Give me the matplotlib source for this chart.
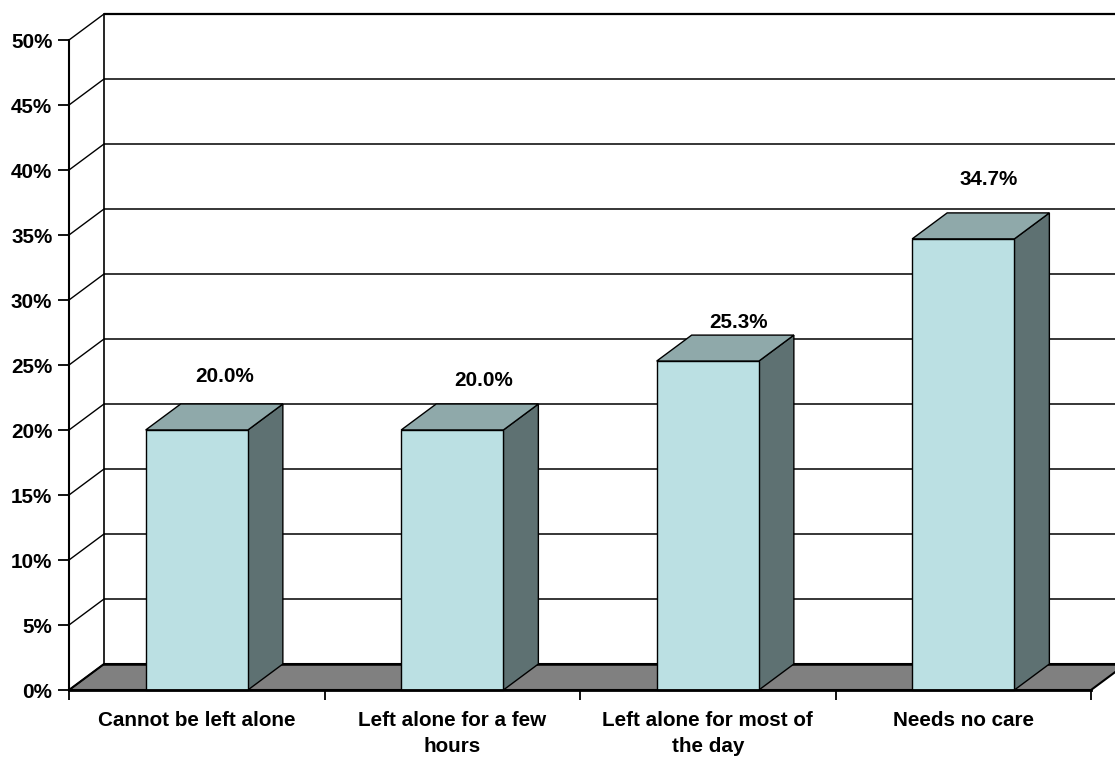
import matplotlib
matplotlib.use("Agg")
import matplotlib.pyplot as plt
from matplotlib.patches import Polygon

# Care-need categories and their share of respondents (%)
categories = [
    "Cannot be left alone",
    "Left alone for a few\nhours",
    "Left alone for most of\nthe day",
    "Needs no care",
]
shares = [20.0, 20.0, 25.3, 34.7]
y_ticks = [0, 5, 10, 15, 20, 25, 30, 35, 40, 45, 50]
y_tick_labels = [f"{t}%" for t in y_ticks]

# Styling
FRONT = "#BBE0E3"
TOP = "#8FA9AA"
SIDE = "#5E7172"
FLOOR = "#808080"
FONT_SIZE = 14.9
DX, DY = 0.137, 2.0          # depth offset of the 3-D box (x units, % units)
BAR_W = 0.40                 # bar width in category units
# value-label nudges in pixels, relative to the front-top centre of each bar
label_nudge = [(28, 54), (31, 50), (31, 39), (25, 59)]

plt.rcParams["font.family"] = ["Liberation Sans", "DejaVu Sans"]
plt.rcParams["font.weight"] = "bold"

fig = plt.figure(figsize=(11.15, 7.62), dpi=100)
ax = fig.add_axes([0, 0, 1, 1])
ax.set_xlim(-0.2701, 4.0939)
ax.set_ylim(-5.538, 53.077)

n = len(categories)
ymax = y_ticks[-1]

# floor of the 3-D plot
ax.add_patch(Polygon([(0, 0), (n, 0), (n + DX, DY), (DX, DY)],
                     closed=True, fc=FLOOR, ec="black", lw=1.5, zorder=1))

# back wall gridlines and side-wall connectors
for t in y_ticks:
    if t > 0:
        ax.plot([DX, n + DX + 0.3], [t + DY, t + DY], color="black",
                lw=1.6 if t == ymax else 1.1, zorder=2, solid_capstyle="butt")
    ax.plot([0, DX], [t, t + DY], color="black", lw=1.0, zorder=2)
ax.plot([DX, DX], [DY, ymax + DY], color="black", lw=1.2, zorder=2)
ax.plot([DX, n + DX + 0.3], [DY, DY], color="black", lw=1.8, zorder=2)

# 3-D bars
for i, v in enumerate(shares):
    c = i + 0.5
    x0, x1 = c - BAR_W / 2, c + BAR_W / 2
    ax.add_patch(Polygon([(x1, 0), (x1 + DX, DY), (x1 + DX, v + DY), (x1, v)],
                         closed=True, fc=SIDE, ec="black", lw=1.0, zorder=3))
    ax.add_patch(Polygon([(x0, v), (x1, v), (x1 + DX, v + DY), (x0 + DX, v + DY)],
                         closed=True, fc=TOP, ec="black", lw=1.0, zorder=3))
    ax.add_patch(Polygon([(x0, 0), (x1, 0), (x1, v), (x0, v)],
                         closed=True, fc=FRONT, ec="black", lw=1.0, zorder=4))
    nx, ny = label_nudge[i]
    ax.annotate(f"{v:.1f}%", xy=(c, v), xytext=(nx, ny),
                textcoords="offset pixels", ha="center", va="center",
                fontsize=FONT_SIZE, fontweight="bold", zorder=5)

# axes: spines through the front-left corner of the plot
for side in ("top", "right"):
    ax.spines[side].set_visible(False)
ax.spines["left"].set_position(("data", 0))
ax.spines["bottom"].set_position(("data", 0))
ax.spines["left"].set_bounds(0, ymax)
ax.spines["bottom"].set_bounds(0, n)
ax.spines["left"].set_linewidth(1.5)
ax.spines["bottom"].set_linewidth(2.0)
ax.spines["left"].set_zorder(5)
ax.spines["bottom"].set_zorder(5)

ax.set_yticks(y_ticks, labels=y_tick_labels)
ax.tick_params(axis="y", direction="out", length=8, width=1.3, pad=4.0,
               labelsize=FONT_SIZE)
ax.set_xticks(range(n + 1), labels=[""] * (n + 1))
ax.set_xticks([i + 0.5 for i in range(n)], labels=categories, minor=True)
ax.tick_params(axis="x", which="major", direction="out", length=7.5, width=1.3)
ax.tick_params(axis="x", which="minor", length=0, pad=15, labelsize=FONT_SIZE)
for lbl in ax.get_xticklabels(minor=True) + ax.get_yticklabels():
    lbl.set_fontweight("bold")
for lbl in ax.get_xticklabels(minor=True):
    lbl.set_linespacing(1.45)

fig.savefig("out.png", dpi=100)
